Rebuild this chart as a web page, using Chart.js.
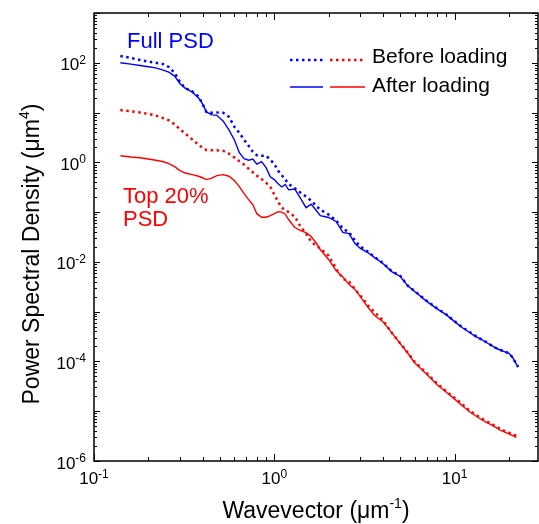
<!DOCTYPE html>
<html>
<head>
<meta charset="utf-8">
<script src="https://cdn.jsdelivr.net/npm/chart.js@4/dist/chart.umd.min.js"></script>
<style>
  body { margin: 0; background: #fff; }
  #wrap { width: 539px; height: 524px; }
</style>
</head>
<body>
<div id="wrap"><canvas id="psdChart"></canvas></div>
<script>
// Wavevector (um^-1) shared by all four curves
const wavevector = [0.14, 0.16, 0.18, 0.2, 0.22, 0.24, 0.26, 0.28, 0.3, 0.32,
  0.35, 0.38, 0.4, 0.42, 0.45, 0.48, 0.52, 0.56, 0.6, 0.64,
  0.68, 0.72, 0.76, 0.8, 0.85, 0.9, 0.95, 1.0, 1.05, 1.1,
  1.15, 1.2, 1.3, 1.4, 1.5, 1.6, 1.7, 1.8, 2.0, 2.2,
  2.4, 2.6, 2.8, 3.0, 3.3, 3.6, 4.0, 4.5, 5.0, 5.5,
  6.0, 7.0, 8.0, 9.0, 10, 11, 12, 13, 14, 15,
  16, 17, 18, 19, 20, 21, 22, 22.5];

// Full PSD (blue)
const fullBefore = [137, 125, 114, 106, 100, 95, 82, 62.5, 41, 31,
  26.6, 21, 14.9, 10.3, 9.9, 10.0, 9.9, 8.2, 5.2, 3.9,
  2.84, 2.15, 1.63, 1.39, 1.36, 1.36, 1.13, 0.92, 0.68, 0.55,
  0.45, 0.37, 0.30, 0.246, 0.205, 0.170, 0.135, 0.112, 0.089, 0.068,
  0.047, 0.0388, 0.0269, 0.0204, 0.0161, 0.0125, 0.0095, 0.0064, 0.0052, 0.0033,
  0.0026, 0.00165, 0.00116, 0.00088, 0.00064, 0.00049, 0.0004, 0.00033, 0.00028, 0.000245,
  0.00021, 0.000186, 0.00017, 0.000157, 0.000147, 0.00012, 0.000089, 0.000078];
const fullAfter = [100, 94, 88, 83, 79, 72, 65, 54, 38, 31,
  26, 19.7, 14.9, 10.3, 9.0, 8.8, 6.8, 4.5, 2.84, 1.56,
  1.18, 1.10, 1.16, 0.92, 1.03, 0.78, 0.51, 0.45, 0.37, 0.32,
  0.36, 0.28, 0.29, 0.187, 0.123, 0.145, 0.110, 0.085, 0.078, 0.065,
  0.039, 0.037, 0.0234, 0.0186, 0.0154, 0.0122, 0.0093, 0.0063, 0.0051, 0.0033,
  0.00255, 0.00161, 0.00114, 0.00086, 0.00063, 0.00048, 0.00039, 0.00032, 0.00028, 0.00024,
  0.00021, 0.000184, 0.000168, 0.000156, 0.000146, 0.000119, 0.000088, 0.000077];

// Top 20% PSD (red)
const topBefore = [11.2, 10.6, 10.0, 9.4, 8.7, 7.8, 7.0, 5.8, 4.6, 3.8,
  2.9, 2.25, 1.96, 1.76, 1.75, 1.75, 1.71, 1.49, 1.26, 1.05,
  0.90, 0.745, 0.634, 0.54, 0.46, 0.39, 0.32, 0.224, 0.162, 0.123,
  0.110, 0.100, 0.081, 0.051, 0.037, 0.0256, 0.0213, 0.0186, 0.0134, 0.0074,
  0.0046, 0.0040, 0.0028, 0.00212, 0.00134, 0.00097, 0.00067, 0.00037, 0.00023, 0.00015,
  9.8e-5, 5.8e-5, 3.6e-5, 2.5e-5, 1.85e-5, 1.4e-5, 1.05e-5, 8.6e-6, 7.3e-6, 6.3e-6,
  5.6e-6, 4.9e-6, 4.4e-6, 4.0e-6, 3.7e-6, 3.5e-6, 3.2e-6];
const topAfter = [1.36, 1.28, 1.24, 1.17, 1.10, 1.04, 0.94, 0.82, 0.68, 0.61,
  0.565, 0.526, 0.49, 0.45, 0.48, 0.54, 0.565, 0.526, 0.43, 0.325,
  0.235, 0.178, 0.141, 0.093, 0.079, 0.079, 0.085, 0.093, 0.102, 0.100,
  0.091, 0.071, 0.049, 0.0426, 0.0388, 0.0323, 0.0245, 0.0177, 0.0112, 0.0067,
  0.0050, 0.0035, 0.0028, 0.0020, 0.00123, 0.00084, 0.00063, 0.00037, 0.000226, 0.000146,
  9.4e-5, 5.5e-5, 3.4e-5, 2.4e-5, 1.75e-5, 1.3e-5, 1.0e-5, 8.2e-6, 6.9e-6, 6.0e-6,
  5.3e-6, 4.7e-6, 4.1e-6, 3.8e-6, 3.5e-6, 3.24e-6, 3.0e-6];

const xDecades = [-1, 0, 1];
const yDecades = [-6, -4, -2, 0, 2];

const blue = '#0000ff';
const red = '#ff0000';
const fam = 'Arial, "Liberation Sans", sans-serif';

function pts(vals) {
  return vals.map((v, i) => ({ x: wavevector[i], y: v }));
}

// text with a superscript piece in the middle
function drawParts(ctx, parts, x, y, align) {
  let total = 0;
  parts.forEach(p => { ctx.font = p.font; total += ctx.measureText(p.t).width; });
  let cx = align === 'right' ? x - total : align === 'center' ? x - total / 2 : x;
  parts.forEach(p => {
    ctx.font = p.font;
    ctx.fillText(p.t, cx, y + (p.dy || 0));
    cx += ctx.measureText(p.t).width;
  });
}

function pow10(d) {
  return [{ t: '10', font: '17px ' + fam }, { t: String(d), font: '12px ' + fam, dy: -6.5 }];
}

const decor = {
  id: 'decor',
  afterDraw(chart) {
    const ctx = chart.ctx;
    const a = chart.chartArea;
    const xs = chart.scales.x, ys = chart.scales.y;
    ctx.save();
    ctx.strokeStyle = '#000';
    ctx.fillStyle = '#000';
    ctx.textAlign = 'left';
    ctx.textBaseline = 'alphabetic';

    // frame
    ctx.lineWidth = 1.5;
    ctx.strokeRect(a.left, a.top, a.right - a.left, a.bottom - a.top);

    // ticks, pointing inward on all four sides
    ctx.lineWidth = 1;
    ctx.beginPath();
    for (let d = -6; d <= 3; d++) {
      for (let m = 1; m <= 9; m++) {
        const v = m * Math.pow(10, d);
        if (v > 1e3) break;
        const py = Math.round(ys.getPixelForValue(v)) + 0.5;
        const len = m === 1 ? 6 : 3;
        ctx.moveTo(a.left, py); ctx.lineTo(a.left + len, py);
        ctx.moveTo(a.right, py); ctx.lineTo(a.right - len, py);
      }
    }
    for (let d = -1; d <= 1; d++) {
      for (let m = 1; m <= 9; m++) {
        const v = m * Math.pow(10, d);
        if (v > 29) break;
        const px = Math.round(xs.getPixelForValue(v)) + 0.5;
        const len = m === 1 ? 7 : 4;
        ctx.moveTo(px, a.bottom); ctx.lineTo(px, a.bottom - len);
        ctx.moveTo(px, a.top); ctx.lineTo(px, a.top + len);
      }
    }
    ctx.stroke();

    // tick labels
    yDecades.forEach(d => {
      drawParts(ctx, pow10(d), 86, ys.getPixelForValue(Math.pow(10, d)) + 7.5, 'right');
    });
    xDecades.forEach(d => {
      drawParts(ctx, pow10(d), xs.getPixelForValue(Math.pow(10, d)), 484, 'center');
    });

    // axis titles
    drawParts(ctx, [
      { t: 'Wavevector (\u03bcm', font: '23px ' + fam },
      { t: '-1', font: '14px ' + fam, dy: -10 },
      { t: ')', font: '23px ' + fam }
    ], (a.left + a.right) / 2, 518, 'center');

    ctx.save();
    ctx.translate(39, 254);
    ctx.rotate(-Math.PI / 2);
    drawParts(ctx, [
      { t: 'Power Spectral Density (\u03bcm', font: '23px ' + fam },
      { t: '4', font: '14px ' + fam, dy: -10 },
      { t: ')', font: '23px ' + fam }
    ], 0, 0, 'center');
    ctx.restore();

    // curve labels
    ctx.font = '22px ' + fam;
    ctx.fillStyle = blue;
    ctx.fillText('Full PSD', 127, 48);
    ctx.fillStyle = red;
    ctx.fillText('Top 20%', 123, 203);
    ctx.fillText('PSD', 123, 226);

    // legend
    ctx.fillStyle = '#000';
    ctx.font = '21px ' + fam;
    ctx.fillText('Before loading', 372, 63);
    ctx.fillText('After loading', 372, 92);
    ctx.lineWidth = 2.5;
    ctx.setLineDash([2.5, 3.5]);
    [[290, 323, blue], [330, 365, red]].forEach(s => {
      ctx.strokeStyle = s[2];
      ctx.beginPath(); ctx.moveTo(s[0], 60); ctx.lineTo(s[1], 60); ctx.stroke();
    });
    ctx.setLineDash([]);
    ctx.lineWidth = 1.3;
    [[290, 323, blue], [330, 365, red]].forEach(s => {
      ctx.strokeStyle = s[2];
      ctx.beginPath(); ctx.moveTo(s[0], 87); ctx.lineTo(s[1], 87); ctx.stroke();
    });
    ctx.restore();
  }
};

const dotted = { borderWidth: 2.5, borderDash: [2.5, 3.5], pointRadius: 0, fill: false, tension: 0 };
const solid = { borderWidth: 1.4, pointRadius: 0, fill: false, tension: 0 };

new Chart(document.getElementById('psdChart').getContext('2d'), {
  type: 'line',
  data: {
    datasets: [
      Object.assign({ label: 'Full PSD, before loading', data: pts(fullBefore), borderColor: blue }, dotted),
      Object.assign({ label: 'Top 20% PSD, before loading', data: pts(topBefore), borderColor: red }, dotted),
      Object.assign({ label: 'Full PSD, after loading', data: pts(fullAfter), borderColor: blue }, solid),
      Object.assign({ label: 'Top 20% PSD, after loading', data: pts(topAfter), borderColor: red }, solid)
    ]
  },
  options: {
    responsive: true,
    maintainAspectRatio: false,
    animation: false,
    layout: { padding: { top: 13, right: 1, left: 0, bottom: 0 } },
    plugins: { legend: { display: false }, tooltip: { enabled: false } },
    scales: {
      x: {
        type: 'logarithmic', min: 0.1, max: 29,
        grid: { display: false }, border: { display: false },
        ticks: { display: false },
        afterFit(s) { s.height = 63; }
      },
      y: {
        type: 'logarithmic', min: 1e-6, max: 1e3,
        grid: { display: false }, border: { display: false },
        ticks: { display: false },
        afterFit(s) { s.width = 94; }
      }
    }
  },
  plugins: [decor]
});
</script>
</body>
</html>
